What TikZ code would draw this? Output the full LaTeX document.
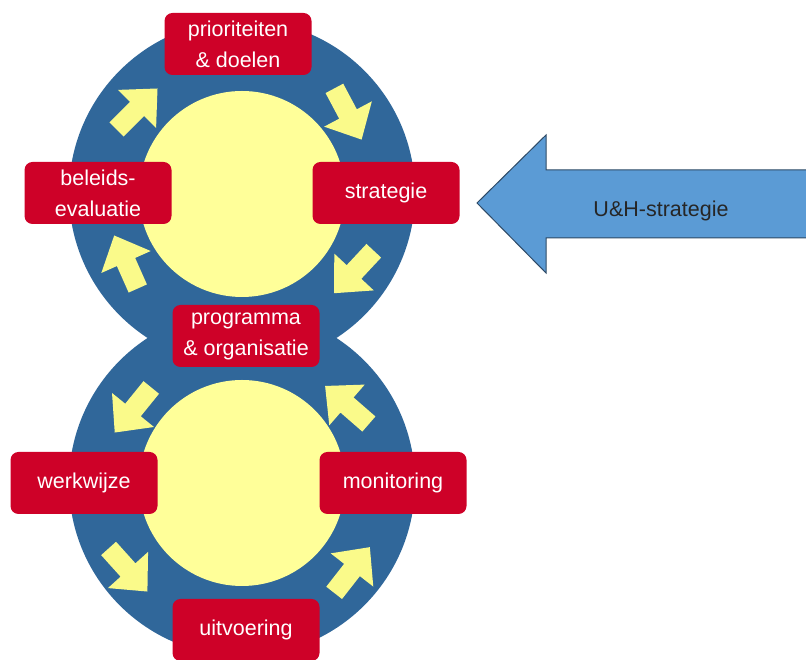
\documentclass[tikz,border=0pt]{standalone}
\usepackage{fontspec}
\setmainfont{Liberation Sans}
\definecolor{ring}{HTML}{30679A}
\definecolor{core}{HTML}{FFFF99}
\definecolor{arr}{HTML}{FAFA8A}
\definecolor{boxred}{HTML}{CE0128}
\definecolor{bigfill}{HTML}{5B9BD5}
\definecolor{bigline}{HTML}{2E4A66}
\tikzset{
  ringc/.style={circle, fill=ring, minimum size=346pt, inner sep=0pt},
  corec/.style={circle, fill=core, minimum size=206pt, inner sep=0pt},
  stepbox/.style={rectangle, rounded corners=8pt, fill=boxred, text=white,
    minimum width=147pt, minimum height=62pt, inner sep=0pt, align=center,
    font=\fontsize{21.5}{31}\selectfont},
  pics/cyc/.style={code={\fill[arr] (-29,-10) -- (0,-10) -- (0,-27) -- (29,0) -- (0,27) -- (0,10) -- (-29,10) -- cycle;}}
}
\begin{document}
\begin{tikzpicture}[x=1pt,y=1pt]
\useasboundingbox (0,0) rectangle (806,660);
\clip (0,0) rectangle (806,660);
% rings
\node[ringc] (topring) at (242,467) {};
\node[ringc] (botring) at (242,177) {};
\node[corec] (topcore) at (242,466) {};
\node[corec] (botcore) at (242,177) {};
% cycle arrows, top
\pic[rotate=-62] at (348,546) {cyc};
\pic[rotate=-133] at (354,388) {cyc};
\pic[rotate=114] at (126,398) {cyc};
\pic[rotate=45] at (137,551) {cyc};
% cycle arrows, bottom
\pic[rotate=-129] at (133,250) {cyc};
\pic[rotate=-48] at (128,90) {cyc};
\pic[rotate=52] at (352,90) {cyc};
\pic[rotate=139] at (347,255) {cyc};
% boxes
\node[stepbox] (prio) at (238,616) {prioriteiten\\\& doelen};
\node[stepbox] (bel) at (98,467) {beleids-\\evaluatie};
\node[stepbox] (strat) at (386,467) {strategie};
\node[stepbox] (prog) at (246,324) {programma\\\& organisatie};
\node[stepbox] (werk) at (84,177) {werkwijze};
\node[stepbox] (mon) at (393,177) {monitoring};
\node[stepbox] (uitv) at (246,30) {uitvoering};
% big arrow
\coordinate (tip) at (477,457);
\fill[bigfill, draw=bigline, line width=1pt] (tip) -- (546,525) -- (546,490) -- (812,490) -- (812,422) -- (546,422) -- (546,387) -- cycle;
\node[font=\fontsize{21.5}{26}\selectfont, text=black!85] (uh) at (661,449) {U\&H-strategie};
\end{tikzpicture}
\end{document}
